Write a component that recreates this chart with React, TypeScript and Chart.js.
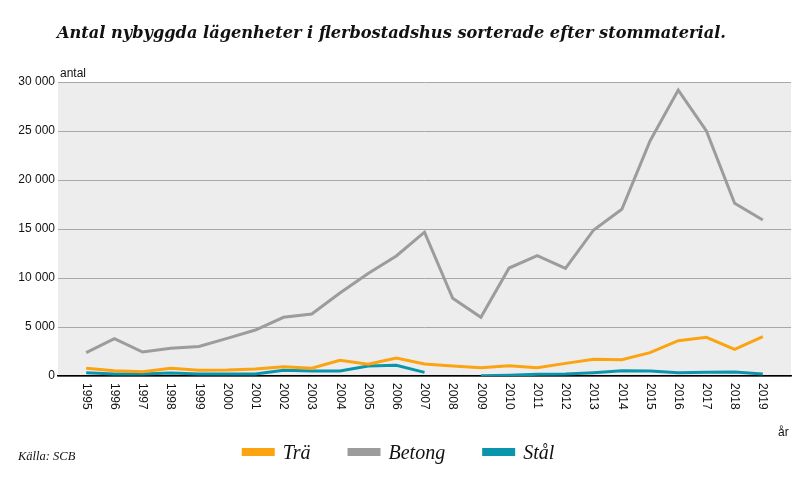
import React, { useEffect, useRef } from "react";
import { Chart, registerables } from "chart.js";

Chart.register(...registerables);

const years = [1995, 1996, 1997, 1998, 1999, 2000, 2001, 2002, 2003, 2004, 2005, 2006, 2007, 2008, 2009, 2010, 2011, 2012, 2013, 2014, 2015, 2016, 2017, 2018, 2019];
const tra = [790, 540, 440, 790, 580, 610, 710, 950, 790, 1600, 1190, 1840, 1220, 1020, 850, 1050, 850, 1290, 1700, 1670, 2380, 3600, 3950, 2720, 4010];
const betong = [2380, 3810, 2450, 2820, 3020, 3840, 4690, 5990, 6330, 8470, 10450, 12250, 14680, 7930, 5990, 11020, 12280, 10990, 14900, 17010, 23980, 29180, 25000, 17620, 15920];
const stal: (number | null)[] = [340, 200, 200, 300, 200, 200, 200, 580, 510, 510, 1020, 1090, 370, null, 30, 75, 170, 200, 340, 540, 510, 340, 370, 400, 200];
const seriesNames = ["Trä", "Betong", "Stål"];
const seriesColors = ["#FCA311", "#9C9C9C", "#0B95AD"];
const yTicks = [0, 5000, 10000, 15000, 20000, 25000, 30000];
const title = "Antal nybyggda lägenheter i flerbostadshus sorterade efter stommaterial.";
const source = "Källa: SCB";
const yUnit = "antal";
const xUnit = "år";

const fmt = (v: number) => String(v).replace(/\B(?=(\d{3})+(?!\d))/g, " ");

const decorPlugin = {
  id: "decor",
  beforeDraw(chart: any) {
    const { ctx, chartArea } = chart;
    ctx.save();
    ctx.fillStyle = "#ededed";
    ctx.fillRect(chartArea.left, chartArea.top, chartArea.right - chartArea.left, chartArea.bottom - chartArea.top);
    ctx.restore();
  },
  afterDraw(chart: any) {
    const { ctx, chartArea, scales } = chart;
    const x = scales.x;
    ctx.save();
    // title, fitted to the reference width
    ctx.fillStyle = "#111";
    ctx.textAlign = "left";
    ctx.textBaseline = "alphabetic";
    ctx.font = "bold italic 17px 'DejaVu Serif'";
    const w17 = ctx.measureText(title).width;
    const fs = Math.min(20, 17 * 670 / w17);
    ctx.font = `bold italic ${fs.toFixed(2)}px 'DejaVu Serif'`;
    ctx.fillText(title, 57, 38);
    // units
    ctx.font = "12px 'Liberation Sans'";
    ctx.fillStyle = "#111";
    ctx.fillText(yUnit, 60, 77);
    ctx.fillText(xUnit, 778, 436);
    // x labels rotated clockwise
    ctx.font = "12px 'Liberation Sans'";
    years.forEach((yr) => {
      const px = x.getPixelForValue(yr);
      ctx.save();
      ctx.translate(px, chartArea.bottom + 7);
      ctx.rotate(Math.PI / 2);
      ctx.textAlign = "left";
      ctx.textBaseline = "middle";
      ctx.fillText(String(yr), 0, 0);
      ctx.restore();
    });
    // source
    ctx.font = "italic 12.5px 'Liberation Serif'";
    ctx.textBaseline = "alphabetic";
    ctx.fillText(source, 18, 460);
    // legend
    ctx.font = "italic 20px 'Liberation Serif'";
    const sw = 33, gapT = 8, gapI = 37;
    const widths = chart.data.datasets.map((d: any) => sw + gapT + ctx.measureText(d.label).width);
    const total = widths.reduce((a: number, b: number) => a + b, 0) + gapI * (widths.length - 1);
    let cx = 398 - total / 2;
    chart.data.datasets.forEach((d: any, i: number) => {
      ctx.fillStyle = d.borderColor;
      ctx.fillRect(cx, 448, sw, 8);
      ctx.fillStyle = "#111";
      ctx.textBaseline = "alphabetic";
      ctx.fillText(d.label, cx + sw + gapT, 459);
      cx += widths[i] + gapI;
    });
    ctx.restore();
  },
};

export default function App() {
  const ref = useRef<HTMLCanvasElement | null>(null);
  useEffect(() => {
    if (!ref.current) return;
    const mk = (vals: (number | null)[]) => years.map((yr, i) => ({ x: yr, y: vals[i] }));
    const chart = new Chart(ref.current, {
      type: "line",
      data: {
        datasets: [tra, betong, stal].map((vals, i) => ({
          label: seriesNames[i],
          data: mk(vals),
          borderColor: seriesColors[i],
          backgroundColor: seriesColors[i],
          borderWidth: 3,
          pointRadius: 0,
          tension: 0,
          spanGaps: false,
        })),
      },
      options: {
        animation: false,
        responsive: false,
        events: [],
        layout: { padding: { top: 82, left: 0, right: 9, bottom: 0 } },
        plugins: { legend: { display: false }, title: { display: false }, tooltip: { enabled: false } },
        scales: {
          x: {
            type: "linear",
            min: 1994,
            max: 2020,
            grid: { display: false },
            border: { display: true, color: "#000", width: 1.5 },
            ticks: { display: false },
            afterFit: (s: any) => { s.height = 124; },
          },
          y: {
            min: 0,
            max: 30000,
            afterBuildTicks: (s: any) => { s.ticks = yTicks.map((v) => ({ value: v })); },
            grid: { color: "#a8a8a8", lineWidth: 1, drawTicks: false },
            border: { display: false },
            ticks: {
              padding: 3,
              color: "#111",
              font: { family: "'Liberation Sans'", size: 12 },
              callback: (v: any) => fmt(Number(v)),
            },
            afterFit: (s: any) => { s.width = 58; },
          },
        },
      },
      plugins: [decorPlugin],
    });
    return () => chart.destroy();
  }, []);
  return (
    <div style={{ position: "absolute", left: 0, top: 0, width: 800, height: 500, background: "#fff" }}>
      <canvas ref={ref} width={800} height={500} />
    </div>
  );
}
